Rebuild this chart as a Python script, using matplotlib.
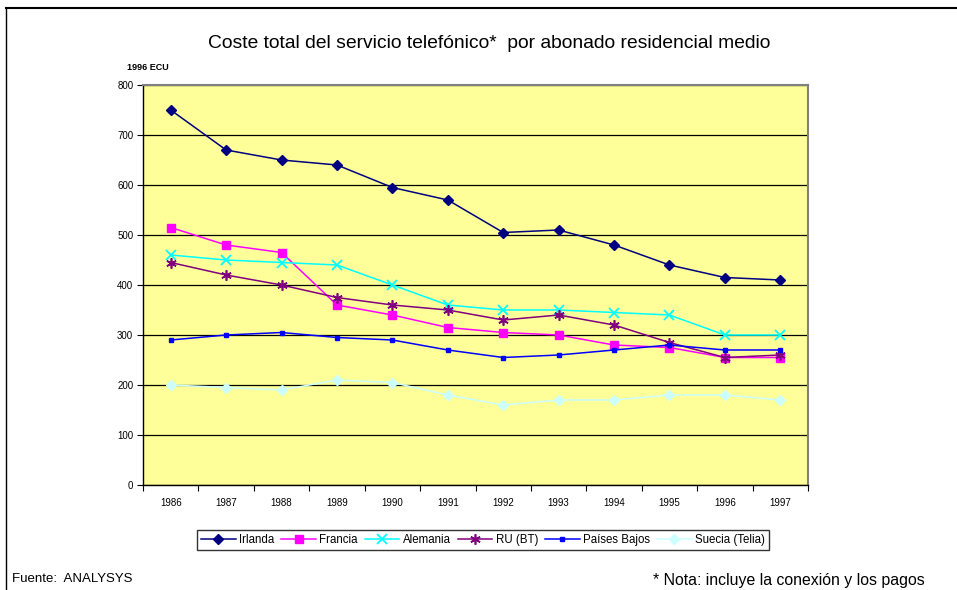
import matplotlib
matplotlib.use("Agg")
import matplotlib.pyplot as plt
from matplotlib.lines import Line2D

plt.rcParams['font.family'] = ['Liberation Sans', 'DejaVu Sans']

years = ['1986', '1987', '1988', '1989', '1990', '1991', '1992', '1993', '1994', '1995', '1996', '1997']
irlanda = [750, 670, 650, 640, 595, 570, 505, 510, 480, 440, 415, 410]
francia = [515, 480, 465, 360, 340, 315, 305, 300, 280, 275, 255, 255]
alemania = [460, 450, 445, 440, 400, 360, 350, 350, 345, 340, 300, 300]
ru_bt = [445, 420, 400, 375, 360, 350, 330, 340, 320, 285, 255, 260]
paises_bajos = [290, 300, 305, 295, 290, 270, 255, 260, 270, 280, 270, 270]
suecia = [200, 195, 190, 210, 205, 180, 160, 170, 170, 180, 180, 170]
yticks = [0, 100, 200, 300, 400, 500, 600, 700, 800]

fig = plt.figure(figsize=(9.57, 5.90), dpi=100)
W, H = 957, 590

# outer frame (cropped on right/bottom)
fig.add_artist(Line2D([6/W, 1.0], [1-8/H, 1-8/H], transform=fig.transFigure, color='black', lw=1.5))
fig.add_artist(Line2D([6/W, 6/W], [0.0, 1-8/H], transform=fig.transFigure, color='black', lw=1.0))

ax = fig.add_axes([143/W, 1-485/H, (808-143)/W, (485-85)/H])
ax.set_facecolor('#FFFF99')

x = list(range(len(years)))
series = [
    ('Irlanda', irlanda, '#000080', 'D', 5.0, dict()),
    ('Francia', francia, '#FF00FF', 's', 6.0, dict()),
    ('Alemania', alemania, '#00FFFF', 'x', 6.5, dict(markeredgewidth=1.3)),
    ('RU (BT)', ru_bt, '#800080', (6, 2, 0), 7.5, dict(markeredgewidth=1.2)),
    ('Países Bajos', paises_bajos, '#0000FF', 's', 3.0, dict()),
    ('Suecia (Telia)', suecia, '#CCFFFF', 'D', 5.0, dict()),
]
for name, vals, col, mk, ms, kw in series:
    ax.plot(x, vals, color=col, lw=1.1, marker=mk, markersize=ms,
            markerfacecolor=col, markeredgecolor=col, label=name, zorder=3, **kw)

ax.set_xlim(-0.5, 11.5)
ax.set_ylim(0, 800)
ax.set_yticks(yticks)
ax.set_yticklabels([str(v) for v in yticks], fontsize=7)
ax.yaxis.grid(True, color='black', lw=0.9)
ax.set_axisbelow(True)

ax.set_xticks([i - 0.5 for i in range(len(years) + 1)])
ax.set_xticklabels([])
ax.set_xticks(x, minor=True)
ax.set_xticklabels(years, minor=True, fontsize=7)
ax.tick_params(axis='x', which='major', direction='out', length=4, width=0.8)
ax.tick_params(axis='x', which='minor', length=0, pad=9)
ax.tick_params(axis='y', direction='out', length=4, width=0.8, pad=3)

for s in ['top', 'right']:
    ax.spines[s].set_color('#808080')
    ax.spines[s].set_linewidth(1.5)
for s in ['left', 'bottom']:
    ax.spines[s].set_color('black')
    ax.spines[s].set_linewidth(1.0)

fig.text(489/W, 1-43/H, 'Coste total del servicio telefónico*  por abonado residencial medio',
         ha='center', va='center', fontsize=13.9)
fig.text(148/W, 1-68/H, '1996 ECU', ha='center', va='center', fontsize=6.5, fontweight='bold')

leg = ax.legend(loc='center', bbox_to_anchor=(483/W, 1-540/H), bbox_transform=fig.transFigure,
                ncol=6, fontsize=8.3, frameon=True, fancybox=False, edgecolor='black',
                handlelength=3.0, handletextpad=0.3, columnspacing=0.6, borderpad=0.35,
                borderaxespad=0)
leg.get_frame().set_linewidth(1.0)

fig.text(12/W, 1-579/H, 'Fuente:  ANALYSYS', ha='left', va='center', fontsize=9.5,
         family=['Liberation Sans Narrow', 'Liberation Sans', 'DejaVu Sans'])
fig.text(925/W, 1-580/H, '* Nota: incluye la conexión y los pagos', ha='right', va='center', fontsize=11.4)

fig.savefig('out.png', dpi=100)
